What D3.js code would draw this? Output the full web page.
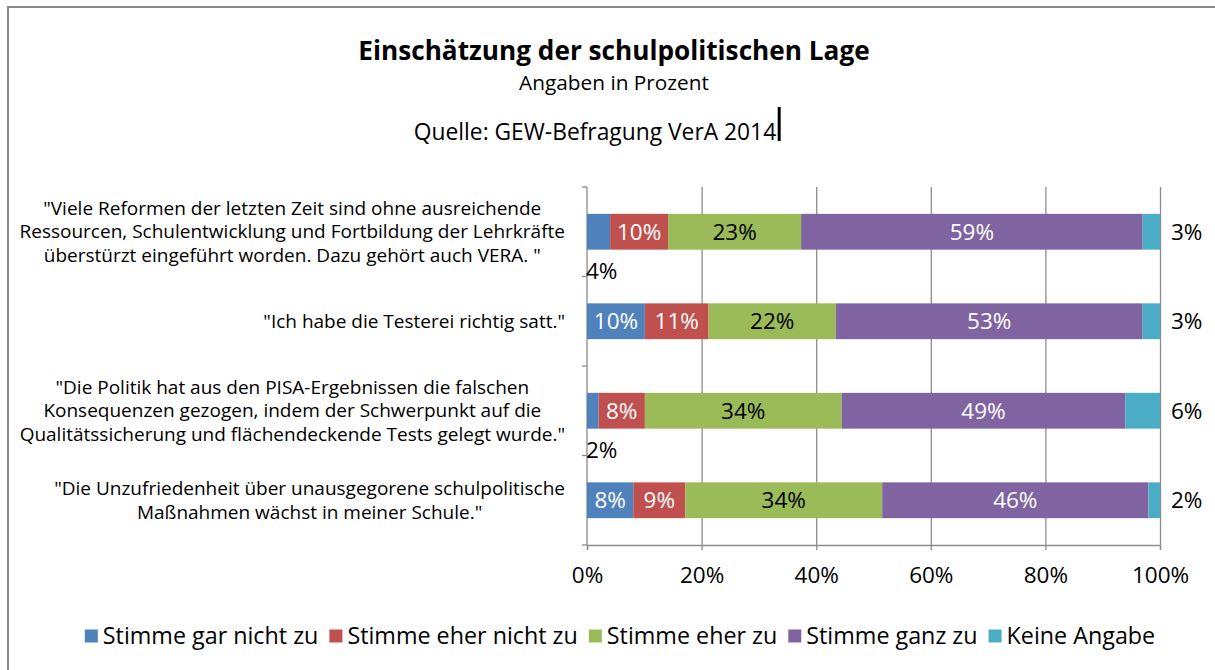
<!DOCTYPE html>
<html lang="de">
<head>
<meta charset="UTF-8">
<title>Einschätzung der schulpolitischen Lage</title>
<style>
  body { margin: 0; overflow: hidden; background: #fff; }
  svg  { display: block; }
  text { font-family: "Open Sans", sans-serif; fill: #000; }
  .cat   { font-size: 19px; }
  .val   { font-size: 22.5px; }
  .tick text { font-size: 22.5px; }
  .legend text { font-size: 23.3px; }
</style>
</head>
<body>
<svg id="chart" width="1215" height="670"></svg>

<script src="https://d3js.org/d3.v7.min.js"></script>
<script>
/* ---------------- Data ---------------- */
const series = ["Stimme gar nicht zu", "Stimme eher nicht zu", "Stimme eher zu", "Stimme ganz zu", "Keine Angabe"];
const colors = ["#4F81BD", "#C0504D", "#9BBB59", "#8064A2", "#4BACC6"];
const labelFill = ["#fff", "#fff", "#000", "#fff", "#000"];

const statements = [
  ["\"Viele Reformen der letzten Zeit sind ohne ausreichende",
   "Ressourcen, Schulentwicklung und Fortbildung der Lehrkräfte",
   "überstürzt eingeführt worden. Dazu gehört auch VERA. \""],
  ["\"Ich habe die Testerei richtig satt.\""],
  ["\"Die Politik hat aus den PISA-Ergebnissen die falschen",
   "Konsequenzen gezogen, indem der Schwerpunkt auf die",
   "Qualitätssicherung und flächendeckende Tests gelegt wurde.\""],
  ["\"Die Unzufriedenheit über unausgegorene schulpolitische",
   "Maßnahmen wächst in meiner Schule.\""]
];

// percentages per statement, in series order
const garNicht  = [4, 10, 2, 8];
const eherNicht = [10, 11, 8, 9];
const eherZu    = [23, 22, 34, 34];
const ganzZu    = [59, 53, 49, 46];
const keine     = [3, 3, 6, 2];

const xTicks = [0, 0.2, 0.4, 0.6, 0.8, 1];

/* ---------------- Setup ---------------- */
const svg = d3.select('#chart');
const plot = { left: 587, right: 1160, top: 187, bottom: 545 };

// outer frame (runs past right and bottom edge like the source)
svg.append('rect')
  .attr('x', 8).attr('y', 7).attr('width', 1240).attr('height', 700)
  .attr('fill', 'none').attr('stroke', '#8a8a8a').attr('stroke-width', 2);

// titles
svg.append('text').attr('x', 614).attr('y', 60).attr('text-anchor', 'middle')
  .style('font-size', '26.2px').style('font-weight', 'bold')
  .text('Einschätzung der schulpolitischen Lage');
svg.append('text').attr('x', 614).attr('y', 90).attr('text-anchor', 'middle')
  .style('font-size', '20.8px').text('Angaben in Prozent');
const src = svg.append('text').attr('x', 595).attr('y', 140).attr('text-anchor', 'middle')
  .style('font-size', '22.8px').text('Quelle: GEW-Befragung VerA 2014');
const srcEnd = 595 + src.node().getComputedTextLength() / 2;
svg.append('line')
  .attr('x1', srcEnd + 3).attr('x2', srcEnd + 3).attr('y1', 107).attr('y2', 141)
  .attr('stroke', '#000').attr('stroke-width', 3);

/* ---------------- Scales ---------------- */
const rows = statements.map((s, i) => ({
  idx: i,
  [series[0]]: garNicht[i], [series[1]]: eherNicht[i], [series[2]]: eherZu[i],
  [series[3]]: ganzZu[i], [series[4]]: keine[i]
}));

const stacked = d3.stack().keys(series).offset(d3.stackOffsetExpand)(rows);

const x = d3.scaleLinear().domain([0, 1]).range([plot.left, plot.right]);
const y = d3.scaleBand().domain(d3.range(statements.length)).range([plot.top, plot.bottom]).padding(0);
const barH = y.bandwidth() * 0.4;
const barY = i => y(i) + (y.bandwidth() - barH) / 2;

/* ---------------- Grid & axes ---------------- */
svg.append('g')
  .attr('transform', `translate(0,${plot.bottom})`)
  .call(d3.axisBottom(x).tickValues(xTicks.slice(1)).tickSize(-(plot.bottom - plot.top)).tickFormat(''))
  .call(g => g.select('.domain').remove())
  .call(g => g.selectAll('line').attr('stroke', '#8c8c8c').attr('stroke-width', 1.3));

const xAxis = svg.append('g')
  .attr('transform', `translate(0,${plot.bottom})`)
  .call(d3.axisBottom(x).tickValues(xTicks).tickSize(5).tickPadding(17).tickFormat(d3.format('.0%')));
xAxis.select('.domain').attr('stroke', '#8c8c8c').attr('stroke-width', 1.3);
xAxis.selectAll('line').attr('stroke', '#8c8c8c').attr('stroke-width', 1.3);
xAxis.selectAll('text').attr('fill', '#000');

// category axis on left (band boundaries)
const bounds = d3.range(statements.length + 1).map(i => plot.top + i * y.step());
const yAxis = svg.append('g');
yAxis.append('line')
  .attr('x1', plot.left).attr('x2', plot.left).attr('y1', plot.top).attr('y2', plot.bottom)
  .attr('stroke', '#8c8c8c').attr('stroke-width', 1.3);
yAxis.selectAll('.yt').data(bounds).enter().append('line')
  .attr('x1', plot.left - 5).attr('x2', plot.left).attr('y1', d => d).attr('y2', d => d)
  .attr('stroke', '#8c8c8c').attr('stroke-width', 1.3);

/* ---------------- Bars ---------------- */
const layer = svg.append('g').selectAll('g')
  .data(stacked).enter().append('g')
  .attr('fill', (d, i) => colors[i]);

layer.selectAll('rect')
  .data(d => d).enter().append('rect')
  .attr('x', d => x(d[0]))
  .attr('width', d => x(d[1]) - x(d[0]))
  .attr('y', d => barY(d.data.idx))
  .attr('height', barH);

/* ---------------- Value labels ---------------- */
const labels = svg.append('g');
stacked.forEach((s, si) => {
  s.forEach(d => {
    const i = d.data.idx;
    const v = d.data[s.key];
    let lx = (x(d[0]) + x(d[1])) / 2;
    let ly = barY(i) + barH / 2;
    let fill = labelFill[si];
    let anchor = 'middle';
    if (si === 4) {            // Keine Angabe: right of the bar
      lx = plot.right + 11; anchor = 'start'; fill = '#000';
    } else if (v < 5) {        // too narrow: drops below the bar
      lx = plot.left - 1; ly = barY(i) + barH + 21; anchor = 'start'; fill = '#000';
    }
    labels.append('text')
      .attr('class', 'val')
      .attr('x', lx).attr('y', ly)
      .attr('dy', '0.35em')
      .attr('text-anchor', anchor)
      .style('fill', fill)
      .text(v + '%');
  });
});

/* ---------------- Category labels ---------------- */
const lineH = 23.5;
const catG = svg.append('g');
statements.forEach((lines, i) => {
  const g = catG.append('g');
  const cy = y(i) + y.bandwidth() / 2;
  const t = g.selectAll('text').data(lines).enter().append('text')
    .attr('class', 'cat')
    .attr('text-anchor', 'middle')
    .attr('y', (d, k) => cy + (k - (lines.length - 1) / 2) * lineH)
    .attr('dy', '0.35em')
    .text(d => d);
  const maxW = d3.max(t.nodes(), n => n.getComputedTextLength());
  t.attr('x', 565 - maxW / 2);
});

/* ---------------- Legend ---------------- */
const legend = svg.append('g').attr('class', 'legend');
let lx = 0;
series.forEach((name, i) => {
  const item = legend.append('g').attr('transform', `translate(${lx},0)`);
  item.append('rect').attr('x', 0).attr('y', -6.5).attr('width', 13).attr('height', 13).attr('fill', colors[i]);
  const tx = item.append('text').attr('x', 18).attr('dy', '0.35em').text(name);
  lx += 18 + tx.node().getComputedTextLength() + 11;
});
lx -= 11;
legend.attr('transform', `translate(${620 - lx / 2},636)`);
</script>
</body>
</html>
